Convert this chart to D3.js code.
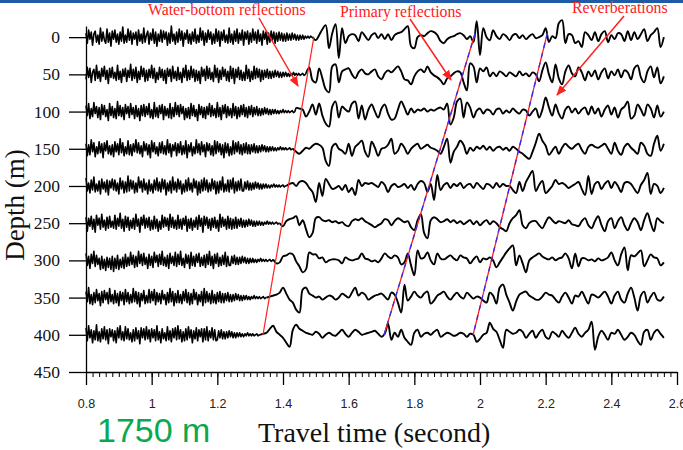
<!DOCTYPE html>
<html><head><meta charset="utf-8">
<script src="https://cdn.jsdelivr.net/npm/d3@7"></script>
<style>body{margin:0;background:#fff}svg{display:block}</style>
</head><body>
<svg id="c" width="683" height="450"></svg>
<script>
// ---------- data ----------
const depths = [0, 50, 100, 150, 200, 250, 300, 350, 400];
const yTicks = [0, 50, 100, 150, 200, 250, 300, 350, 400, 450];
const xTicks = [0.8, 1.0, 1.2, 1.4, 1.6, 1.8, 2.0, 2.2, 2.4, 2.6];
const xTickLabels = ["0.8", "1", "1.2", "1.4", "1.6", "1.8", "2", "2.2", "2.4", "2.6"];
const noiseStep = 0.004;   // s between ambient-noise samples
const waveStep = 0.01;     // s between waveform samples
const onsets = [1.49, 1.47, 1.44, 1.43, 1.41, 1.39, 1.37, 1.35, 1.33]; // water-bottom arrival per trace

// ambient noise before the water-bottom arrival (starts at 0.8 s)
const noise0 = [4,-6,7,-2,5,-8,3,6,-5,2, -7,9,-4,5,-3,-6,8,-5,4,-9, 6,-2,7,-5,3,-7,5,-4,10,-6, 2,-5,8,-3,6,-7,4,-2,5,-8, 7,-4,3,-6,9,-5,2,6,-7,4, -3,8,-6,5,-9,3,-4,7,-5,6, -2,5,-8,4,-6,11,-4,3,-7,5, -5,8,-3,6,-9,4,-2,7,-6,3, -7,5,-4,8,-6,2,-5,9,-3,6, -8,4,-5,7,-2,5,-7,3,-6,8, -4,6,-9,5,-3,7,-5,2,-6,9, -5,3,-7,6,-4,8,-6,4,-3,7, -8,5,-2,6,-7,4,-5,8,-3,5, -6,7,-4,3,-8,6,-2,5,-7,4, -5,6,-3,5,-6,4,-4,5,-3,4, -4,3,-4,4,-3,3,-3,4,-2,3, -3,2,-3,2,-2,2,-2,1,-1,1, -1,1,0];
const noise50 = [-5,7,-3,6,-8,2,5,-6,9,-4, 3,-7,6,-2,8,-5,4,-9,6,-3, 7,-4,2,-6,9,-5,3,-8,5,-2, 6,-7,4,-3,10,-6,5,-4,7,-8, 3,-5,8,-2,6,-7,4,-6,5,-3, 9,-4,6,-8,2,-5,7,-3,5,-6, 4,-9,6,-2,5,-7,8,-4,3,-6, 7,-5,2,-8,6,-3,9,-6,4,-5, 8,-3,5,-7,4,-6,3,-9,7,-2, 5,-6,8,-4,6,-5,2,-7,9,-3, 6,-8,4,-5,7,-2,5,-6,3,-7, 8,-4,6,-9,5,-3,7,-5,4,-6, 2,-6,9,-4,5,-7,3,-5,8,-4, 6,-3,5,-7,4, -5,4,-3,5,-4,3,-4,3,-3,4, -2,3,-3,2,-3,2,-2,2,-2,1, -2,1,-1,2,-1,1,-1,1,-1,0, 1,-1,0];
const noise100 = [6,-4,8,-7,3,-5,9,-2,5,-6, 4,-8,7,-3,6,-5,2,-9,8,-4, 5,-6,3,-7,10,-4,6,-5,4,-8, 7,-2,5,-6,8,-3,4,-7,6,-5, 3,-9,6,-4,7,-5,5,-3,8,-6, 2,-7,9,-5,4,-6,6,-2,7,-8, 5,-4,3,-6,8,-7,4,-5,9,-3, 6,-5,7,-2,5,-8,3,-6,4,-7, 8,-4,6,-5,2,-9,7,-3,5,-6, 4,-7,5,-3,8,-5,6,-4,3,-6, 9,-5,4,-8,6,-2,7,-6,5,-4, 3,-6,8,-4,5,-7,4,-5,6,-3, 7,-5,4,-6,5,-3,6, -5,4,-3,5,-4,3,-4,3,-3,4, -2,3,-3,2,-3,2,-2,2,-2,1, -2,1,-1,2,-1,1,-1,1,-1,0, 1,-1,0];
const noise150 = [5,-7,4,-6,9,-3,6,-8,2,-5, 7,-4,5,-9,6,-2,8,-5,3,-6, 4,-8,7,-3,5,-6,10,-4,6,-7, 2,-5,8,-6,4,-7,5,-3,9,-4, 6,-5,3,-8,7,-2,5,-6,4,-9, 8,-3,6,-5,2,-7,6,-4,7,-5, 3,-6,9,-4,5,-8,4,-2,6,-7, 5,-4,7,-6,3,-5,8,-9,4,-3, 6,-7,2,-5,9,-4,5,-6,7,-3, 4,-8,6,-2,5,-6,3,-7,8,-5, 7,-3,5,-6,4,-9,6,-4,5,-7, 2,-6,8,-5,6,-3,7,-5,4,-6, 5,-4,6,-5,4, -5,4,-3,5,-4,3,-4,3,-3,4, -2,3,-3,2,-3,2,-2,2,-2,1, -2,1,-1,2,-1,1,-1,1,-1,0, 1,-1,0];
const noise200 = [8,-5,3,-7,6,-4,9,-6,2,-5, 5,-8,7,-3,4,-6,6,-9,5,-2, 7,-4,6,-5,3,-8,8,-3,5,-7, 4,-6,10,-5,6,-3,5,-7,3,-6, 9,-2,5,-6,7,-4,3,-8,6,-5, 2,-7,6,-4,8,-5,4,-6,7,-3, 6,-9,3,-5,5,-7,9,-4,4,-6, 7,-3,5,-8,2,-6,6,-5,8,-4, 3,-6,7,-2,5,-9,4,-7,6,-5, 8,-4,6,-6,3,-5,7,-3,5,-8, 4,-7,5,-4,9,-6,2,-5,6,-6, 6,-3,8,-7,4,-5,5,-4,7,-5, -5,4,-3,5,-4,3,-4,3,-3,4, -2,3,-3,2,-3,2,-2,2,-2,1, -2,1,-1,2,-1,1,-1,1,-1,0, 1,-1,0];
const noise250 = [6,-8,5,-3,7,-6,4,-9,8,-2, 5,-6,9,-4,3,-7,6,-5,7,-4, 2,-5,8,-6,5,-3,10,-5,4,-8, 7,-4,6,-7,3,-5,5,-6,9,-3, 4,-9,6,-2,8,-5,5,-4,6,-7, 3,-6,7,-5,4,-8,2,-6,8,-4, 6,-3,5,-7,9,-4,6,-5,3,-6, 8,-5,4,-6,5,-2,7,-8,4,-5, 5,-7,3,-4,6,-6,8,-3,5,-9, 7,-2,6,-5,4,-7,5,-4,6,-5, 3,-8,9,-4,6,-3,4,-6,7,-5, 5,-6,4,-5,6, -5,4,-3,5,-4,3,-4,3,-3,4, -2,3,-3,2,-3,2,-2,2,-2,1, -2,1,-1,2,-1,1,-1,1,-1,0, 1,-1,0];
const noise300 = [7,-5,4,-8,6,-3,9,-6,5,-4, 2,-9,4,-8,1,-10,3,-7,2,-9, 4,-11,2,-8,5,-9,1,-7,3,-8, 6,-6,3,-5,8,-4,5,-7,4,-6, 9,-3,6,-5,7,-4,3,-8,6,-5, 4,-7,8,-2,5,-6,6,-4,9,-5, 3,-6,5,-8,7,-3,4,-5,8,-6, 6,-4,9,-5,2,-7,6,-3,5,-8, 8,-5,4,-6,6,-2,7,-6,3,-5, 5,-7,6,-4,9,-5,4,-8,6,-3, 7,-6,3,-5,5,-4,8,-6,4,-5, -5,4,-3,5,-4,3,-4,3,-3,4, -2,3,-3,2,-3,2,-2,2,-2,1, -2,1,-1,2,-1,1,-1,1,-1,0, 1,-1,0];
const noise350 = [6,-4,10,-6,3,-7,5,-5,8,-3, 4,-8,6,-5,7,-2,5,-6,9,-4, 3,-6,7,-5,4,-8,6,-3,5,-7, 8,-4,5,-6,3,-5,9,-4,6,-6, 5,-9,4,-3,7,-6,2,-5,8,-5, 6,-3,8,-7,5,-4,4,-6,7,-2, 3,-7,5,-5,9,-4,6,-8,4,-5, 7,-5,3,-6,6,-3,8,-5,5,-7, 4,-6,8,-2,5,-7,3,-4,6,-8, 9,-5,6,-4,4,-6,7,-5,3,-6, 5,-4,6,-5,4, -5,4,-3,5,-4,3,-4,3,-3,4, -2,3,-3,2,-3,2,-2,2,-2,1, -2,1,-1,2,-1,1,-1,1,-1,0, 1,-1,0];
const noise400 = [7,-6,9,-3,5,-8,4,-5,10,-6, 3,-7,6,-4,8,-5,5,-9,6,-2, 5,-6,4,-8,7,-3,9,-5,3,-6, 8,-4,6,-5,2,-7,5,-6,7,-4, 4,-9,7,-3,6,-5,8,-4,5,-7, 6,-3,5,-6,9,-5,3,-8,6,-4, 2,-6,8,-5,4,-7,6,-3,7,-5, 9,-4,5,-7,3,-6,6,-5,8,-3, 5,-8,4,-4,7,-6,5,-2,6,-7, 6,-5,8,-6,4,-3,7,-5,5,-6, -5,4,-3,5,-4,3,-4,3,-3,4, -2,3,-3,2,-3,2,-2,2,-2,1, -2,1,-1,2,-1,1,-1,1,-1,0, 1,-1,0];

// recorded waveform from the water-bottom arrival onwards (starts at onset)
const wave0 = [0,-3,2,8,12,-11,4,13,-21,9, -6,1,3,2,-4,5,1,-3,2,4, -1,3,-2,3,-3,2,4,5,8,11, -9,-11,0,2,1,4,6,5,2,-4, -6,-2,0,1,3,4,2,-2,1,-5, 16,-18,9,0,-3,7,1,-2,3,1, -3,2,3,-1,2,-2,1,3,-1,0, 2,9,-5,1,-1,14,17,-6,3,2, -6,-4,-10,5,2,-3,5,-4,3,6, -5,2,-2,4,3,-4,6,-3,5,-2, 3,8,-4,2,5,9,-10,0];
const wave50 = [1,7,-6,-8,6,-4,-15,-18,8,10, -8,3,5,6,0,-4,2,5,1,0, 3,5,-2,-5,1,4,2,5,8,3, -5,-6,-10,-2,3,5,2,8,2,-1, -3,-6,-10,-4,-2,1,3,2,-8,-16, 11,8,-8,6,3,7,-2,2,-2,3, 1,-2,2,0,-2,3,-1,1,-2,2, 0,-7,4,12,0,-8,10,-4,-10,3, 9,1,-2,7,2,-6,3,-2,4,-5, 2,6,-4,3,-1,5,-3,4,2,-5, 6,9,-3,-8,3,8,-3,7,-9,-2];
const wave100 = [4,3,2,-5,0,7,-3,8,-4,-12, -15,5,10,-6,5,2,0,8,10,-7, 6,-8,2,7,0,-6,3,7,-2,-8, -7,2,10,4,-3,3,-1,2,1,3, 0,2,1,3,4,2,8,-13,-6,10, 13,-6,9,4,-6,1,3,-2,2,1, -3,2,3,-2,1,-1,3,0,-2,2, 1,-4,0,3,-6,2,14,4,-4,7, -2,-7,2,5,-1,3,-2,2,4,-3, 5,-2,3,-5,2,6,-3,4,-6,2, 5,10,-7,-4,7,2,-4,7,3,-6, 6,-5,0];
const wave150 = [0,-3,-5,-2,1,0,3,5,4,1, -12,-17,2,5,0,-2,-5,5,-7,2, 5,8,-3,-8,7,1,-7,0,1,4, 10,-5,-2,5,1,-5,0,3,5,0, 2,4,1,0,-2,-5,2,10,-14,-3, 2,8,4,-5,1,-2,2,0,3,-1, 2,-2,1,2,-1,1,-2,2,0,-3, -5,-8,-10,-3,6,15,8,3,-6,-2, 2,-5,1,5,2,0,3,5,-1,-5, 2,4,2,1,3,5,0,-5,6,-2, -6,2,5,1,-2,-5,6,3,-5,-7, 5,13,-2,5];
const wave200 = [0,2,3,0,4,5,3,-2,-6,-16, 3,-10,7,2,-3,-2,0,-4,1,-6, -2,-9,6,0,3,2,3,1,-1,4, 1,-6,0,2,-1,0,2,-2,1,-4, 2,5,3,-6,2,-14,11,-4,1,3, -2,2,0,3,-2,1,2,-2,3,0, -3,2,1,-2,3,-1,2,0,0,-4, -7,4,-5,4,10,15,-5,1,5,-7, -4,0,6,2,3,1,-2,0,2,4, -3,-9,10,-8,2,4,-3,2,5,-2, 4,0,-6,3,4,2,-3,-7,1,6, 13,-8,2,0,-7,-2];
const wave250 = [0,-3,2,4,5,7,-2,3,-6,-14, -10,5,6,3,2,3,1,2,0,1, -2,-3,2,4,3,5,2,0,-2,-4, -2,0,4,3,-2,2,5,3,1,2, -4,-7,3,9,-10,-15,3,6,4,1, 2,4,1,3,0,2,-1,1,3,-1, 2,-2,1,3,-1,2,0,-4,-6,-8, 0,5,8,13,-2,-5,0,2,2,-2, -5,1,6,3,0,2,1,0,3,-1, -2,-3,2,5,-2,-5,2,7,-2,-8, 2,5,-5,2,6,-2,-7,0,5,1, -7,3,10,0,-8,5,2,0];
const wave300 = [1,-3,-2,4,5,7,6,-1,-6,-12, -9,8,6,6,2,3,-2,0,1,1, 0,-3,3,1,0,1,2,7,2,1, -1,0,-2,2,7,4,2,5,3,-4, -2,7,-5,-15,10,2,3,8,0,-4, 7,2,1,3,5,2,0,5,3,2, -3,1,4,-2,2,1,3,0,-7,-2, 3,8,12,15,-5,5,-3,-12,0,3, 5,7,4,2,1,3,0,2,3,7, 2,-8,7,-6,2,2,0,1,-1,2, 0,1,3,8,0,-5,6,13,-10,5, 4,7,10,-6,0,6,3,2,-5,-2];
const wave350 = [0,1,2,3,5,10,4,-2,-5,-12, -15,8,10,4,2,0,1,-2,0,2, 1,-2,0,4,2,0,5,10,2,5, 3,-2,0,2,3,4,1,-2,5,3, -5,-15,13,-3,1,6,2,0,4,6, -6,-3,2,4,6,1,-2,2,5,1, -1,5,2,-1,1,0,-3,-5,5,2, -6,10,13,3,-5,-13,-4,3,5,6, 2,0,-2,-2,1,5,3,2,-2,-5, 1,5,0,-6,2,1,6,0,-6,3, 2,0,3,6,1,-6,2,6,-2,-5, 4,10,0,-13,2,6,-5,1,5,-2, -3,1];
const wave400 = [0,1,2,6,9,3,0,-3,-8,-12, 5,10,6,4,2,1,0,3,1,-3, 0,2,0,-1,2,5,1,-2,2,5, 3,0,1,2,3,4,1,-2,1,11, -5,2,-2,5,-3,-7,-10,2,5,-2, 1,2,0,3,5,-2,0,2,1,-1, 0,2,1,-2,1,0,-7,-4,0,2, 12,6,3,-5,-13,5,3,1,2,5, 3,-3,1,4,-3,2,5,-2,-4,3, 1,-2,4,0,-3,2,7,1,-2,2, 5,13,-15,-2,4,0,-5,2,1,5, 0,-5,-2,2,0,-6,-10,3,5,-5, 2,5,1,-3];

// picked event lines: [time (s), depth (m)]
const waterBottomLine = [[1.494, 0], [1.339, 400]];
const primaryLine = [[1.985, -5], [1.708, 400]];
const reverbLine = [[2.205, -5], [1.979, 400]];

const annotationTexts = ["Water-bottom reflections", "Primary reflections", "Reverberations"];
const distanceLabel = "1750 m";
const xTitle = "Travel time (second)";
const yTitle = "Depth (m)";

// ---------- drawing ----------
const noises = [noise0, noise50, noise100, noise150, noise200, noise250, noise300, noise350, noise400];
const waves = [wave0, wave50, wave100, wave150, wave200, wave250, wave300, wave350, wave400];

const svg = d3.select("#c");
const W = 683, H = 450;
const x = d3.scaleLinear().domain([0.8, 2.6]).range([86, 677]);
const y = d3.scaleLinear().domain([-15, 450]).range([26, 372]);
const amp = d3.scaleLinear().domain([-20, 20]).range([-20, 20]);

svg.append("rect").attr("x", 0).attr("y", 0).attr("width", W).attr("height", 3).attr("fill", "#1f5aa6");

// traces
const noiseLine = d3.line().x(p => x(p[0])).y(p => y(p[1]) - amp(p[2]));
const waveLine = d3.line().x(p => x(p[0])).y(p => y(p[1]) - amp(p[2])).curve(d3.curveCatmullRom.alpha(0.5));
depths.forEach((d, j) => {
  const on = onsets[j];
  const nPts = [];
  noises[j].forEach((v, i) => { const t = 0.8 + i * noiseStep; if (t < on - 1e-9) nPts.push([t, d, v]); });
  const wPts = waves[j].map((v, i) => [on + i * waveStep, d, v]);
  nPts.push(wPts[0]);
  svg.append("path").attr("d", noiseLine(nPts)).attr("fill", "none")
    .attr("stroke", "#000").attr("stroke-width", 1.6).attr("stroke-linejoin", "round");
  svg.append("path").attr("d", waveLine(wPts)).attr("fill", "none")
    .attr("stroke", "#000").attr("stroke-width", 1.9).attr("stroke-linejoin", "round");
});

// event lines
const eLine = d3.line().x(p => x(p[0])).y(p => y(p[1]));
svg.append("path").attr("d", eLine(waterBottomLine)).attr("stroke", "#ff2020").attr("stroke-width", 1.2).attr("fill", "none");
[primaryLine, reverbLine].forEach(L => {
  svg.append("path").attr("d", eLine(L)).attr("stroke", "#ff2020").attr("stroke-width", 1.3).attr("fill", "none");
  svg.append("path").attr("d", eLine(L)).attr("stroke", "#2a2aff").attr("stroke-width", 1.3)
    .attr("stroke-dasharray", "5,5").attr("fill", "none");
});

// axes
const yAxis = d3.axisLeft(y).tickValues(yTicks).tickSize(17).tickSizeOuter(0).tickPadding(9).tickFormat(d3.format("d"));
const gy = svg.append("g").attr("transform", "translate(86,0)").call(yAxis);
gy.selectAll("text").attr("font-family", "'Liberation Serif', serif").attr("font-size", 17.5).attr("fill", "#111");
gy.selectAll("line,path").attr("stroke", "#000").attr("stroke-width", 1.3);

const minor = d3.range(0, 91).map(i => 0.8 + i * 0.02);
const gxm = svg.append("g").attr("transform", "translate(0,372)")
  .call(d3.axisBottom(x).tickValues(minor).tickSize(5).tickSizeOuter(0).tickFormat(""));
gxm.selectAll("line").attr("stroke", "#000").attr("stroke-width", 1);
gxm.select(".domain").remove();
const xAxis = d3.axisBottom(x).tickValues(xTicks).tickSize(13).tickSizeOuter(0).tickPadding(14)
  .tickFormat((d, i) => xTickLabels[i]);
const gx = svg.append("g").attr("transform", "translate(0,372)").call(xAxis);
gx.selectAll("text").attr("font-family", "'Liberation Sans', Arial, sans-serif").attr("font-size", 12.5).attr("fill", "#222");
gx.selectAll("line,path").attr("stroke", "#000").attr("stroke-width", 1.3);

// titles
svg.append("text").attr("x", 258).attr("y", 442).text(xTitle)
  .attr("font-family", "'Liberation Serif', serif").attr("font-size", 28).attr("fill", "#111");
svg.append("text").attr("transform", "translate(24,205) rotate(-90)").attr("text-anchor", "middle").text(yTitle)
  .attr("font-family", "'Liberation Serif', serif").attr("font-size", 27).attr("fill", "#111");
svg.append("text").attr("x", 97).attr("y", 442).text(distanceLabel)
  .attr("font-family", "'Liberation Sans', Arial, sans-serif").attr("font-size", 34).attr("fill", "#0aa84f");

// annotations
const defs = svg.append("defs");
defs.append("marker").attr("id", "ah").attr("viewBox", "0 0 10 10").attr("refX", 9).attr("refY", 5)
  .attr("markerWidth", 7).attr("markerHeight", 7).attr("orient", "auto-start-reverse")
  .append("path").attr("d", "M0,1L10,5L0,9z").attr("fill", "#ff2020");
const annPos = [[148, 15], [340, 17], [572, 13]];
const arrows = [[[259, 18], [298, 86]], [[410, 19], [451, 80]], [[624, 16], [557, 95]]];
annotationTexts.forEach((t, i) => {
  svg.append("text").attr("x", annPos[i][0]).attr("y", annPos[i][1]).text(t)
    .attr("font-family", "'Liberation Serif', serif").attr("font-size", 15.8).attr("fill", "#ff2020");
  svg.append("line").attr("x1", arrows[i][0][0]).attr("y1", arrows[i][0][1])
    .attr("x2", arrows[i][1][0]).attr("y2", arrows[i][1][1])
    .attr("stroke", "#ff2020").attr("stroke-width", 1.5).attr("marker-end", "url(#ah)");
});
</script>
</body></html>
